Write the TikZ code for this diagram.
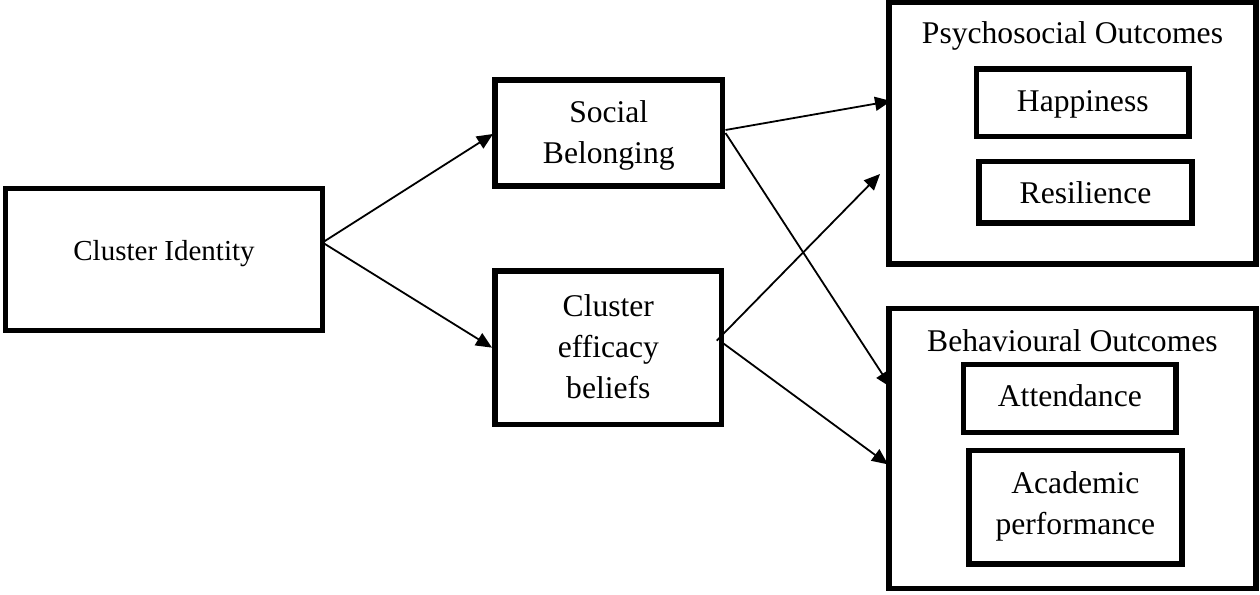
\documentclass[tikz,border=0pt]{standalone}
\usepackage{fontspec}
\setmainfont{Liberation Serif}
\usetikzlibrary{arrows.meta,calc}
\begin{document}
\begin{tikzpicture}[x=1pt,y=-1pt,
  box/.style={draw,line width=5.5pt,rectangle,inner sep=0pt,outer sep=0pt},
  ibox/.style={box},
  lbl/.style={inner sep=0pt,outer sep=0pt,align=center,font=\fontsize{31.6}{40.8}\selectfont,anchor=base},
  conn/.style={line width=1.8pt,-{Triangle[length=16pt,width=14pt]}}]
\useasboundingbox (0,0) rectangle (1260,594);
% boxes
\node[ibox,minimum width=317pt,minimum height=142pt] (ci) at (164,259.5) {};
\node[box,minimum width=227.5pt,minimum height=106pt] (sb) at (608.75,133) {};
\node[box,minimum width=226.7pt,minimum height=153.3pt] (ce) at (608.35,347.65) {};
\node[box,minimum width=367pt,minimum height=262pt] (psy) at (1072.5,133) {};
\node[ibox,minimum width=212.5pt,minimum height=67.7pt] (hap) at (1082.75,102.85) {};
\node[ibox,minimum width=213pt,minimum height=61.1pt] (res) at (1085.5,192.25) {};
\node[box,minimum width=366.8pt,minimum height=280.2pt] (beh) at (1072.4,448.4) {};
\node[ibox,minimum width=212.3pt,minimum height=67.8pt] (att) at (1069.85,398.4) {};
\node[ibox,minimum width=213.2pt,minimum height=113.5pt] (aca) at (1075.4,507.05) {};
% texts (base anchor = baseline of the last line)
\node[lbl,font=\fontsize{29}{36}\selectfont] (tci) at (164,260.3) {Cluster Identity};
\node[lbl] (tsb) at (608.75,163.7) {Social\\Belonging};
\node[lbl] (tce) at (608.35,398) {Cluster\\efficacy\\beliefs};
\node[lbl] (tpsy) at (1072.5,43.7) {Psychosocial Outcomes};
\node[lbl] (thap) at (1082.75,111.7) {Happiness};
\node[lbl] (tres) at (1085.5,203.3) {Resilience};
\node[lbl] (tbeh) at (1072.4,351) {Behavioural Outcomes};
\node[lbl] (tatt) at (1069.85,406) {Attendance};
\node[lbl] (taca) at (1075.4,534) {Academic\\performance};
% connectors
\coordinate (f1) at (880,174);
\draw[conn] ($(ci.east)+(0,-17)$) -- ($(sb.west)+(-2,1)$);
\draw[conn] ($(ci.east)+(0,-17)$) -- ($(ce.west)+(-3,0)$);
\draw[conn] ($(sb.east)+(3,-3)$) -- ($(psy.west)+(2,-32)$);
\draw[conn] ($(sb.east)+(3,0)$) -- ($(beh.west)+(2,-61)$);
\draw[conn] ($(ce.east)+(-5,-7)$) -- (f1);
\draw[conn] ($(ce.east)+(2,-4)$) -- ($(beh.west)+(-1,16)$);
\end{tikzpicture}
\end{document}
